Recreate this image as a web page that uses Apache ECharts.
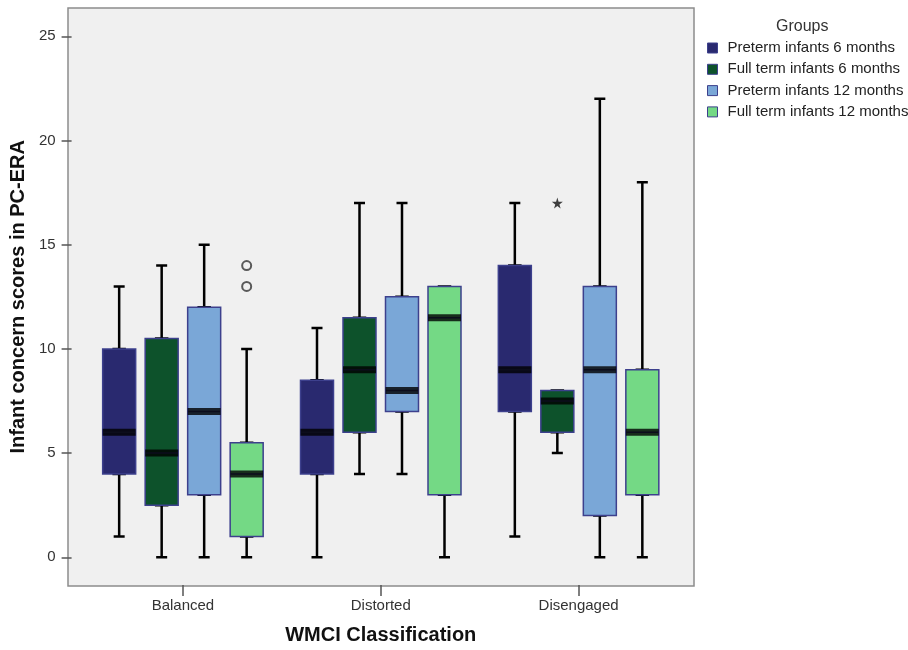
<!DOCTYPE html>
<html>
<head>
<meta charset="utf-8">
<script src="https://cdn.jsdelivr.net/npm/echarts@6/dist/echarts.min.js"></script>
<style>
  html, body { margin: 0; padding: 0; background: #fff; }
  #main { width: 908px; height: 650px; }
</style>
</head>
<body>
<div id="main"></div>
<script>
// ---------------- 数据 ----------------
var categories = ['Balanced', 'Distorted', 'Disengaged'];
var groupNames = ['Preterm infants 6 months', 'Full term infants 6 months', 'Preterm infants 12 months', 'Full term infants 12 months'];
var groupColors = ['#29296f', '#0d522b', '#7aa7d7', '#74d985'];

// [min, Q1, median, Q3, max] for Balanced, Distorted, Disengaged
var preterm6 = [[1, 4, 6, 10, 13], [0, 4, 6, 8.5, 11], [1, 7, 9, 14, 17]];
var fullterm6 = [[0, 2.5, 5, 10.5, 14], [4, 6, 9, 11.5, 17], [5, 6, 7.5, 8, 8]];
var preterm12 = [[0, 3, 7, 12, 15], [4, 7, 8, 12.5, 17], [0, 2, 9, 13, 22]];
var fullterm12 = [[0, 1, 4, 5.5, 10], [0, 3, 11.5, 13, 13], [0, 3, 6, 9, 18]];
var groupStats = [preterm6, fullterm6, preterm12, fullterm12];

// 离群点
var circleOutliers = [['Balanced', 14], ['Balanced', 13]];   // Full term infants 12 months
var starOutliers = [['Disengaged', 17]];                      // Full term infants 6 months

var yTicks = [0, 25, 5]; // min, max, interval

// ---------------- 布局 ----------------
var fontFamily = '"Liberation Sans", Arial, sans-serif';
var frameLeft = 68, frameWidth = 626, frameTop = 8, frameHeight = 578;
var plotLeft = 84, plotWidth = 593.5, plotTop = 36.3, plotHeight = 521;
var boxOffsets = [-63.75, -21.25, 21.25, 63.75]; // 每组箱子的水平偏移

var chart = echarts.init(document.getElementById('main'));

var grids = [
    // 外框
    { left: frameLeft, top: frameTop, width: frameWidth, height: frameHeight, show: true, backgroundColor: '#f0f0f0', borderColor: '#8c8c8c', borderWidth: 1.5 },
    // x 轴 (分类)
    { left: plotLeft, top: frameTop, width: plotWidth, height: frameHeight },
    // y 轴 (0-25), 贴着外框左边
    { left: frameLeft, top: plotTop, width: frameWidth, height: plotHeight }
];
var xAxes = [
    { gridIndex: 0, type: 'value', show: false, min: 0, max: 1 },
    {
        gridIndex: 1, type: 'category', data: categories,
        axisLine: { show: false },
        axisTick: { show: true, alignWithLabel: true, length: 11, lineStyle: { color: '#555', width: 1.5 } },
        axisLabel: { margin: 13, color: '#333', fontSize: 15, fontFamily: fontFamily },
        name: 'WMCI Classification', nameLocation: 'middle', nameGap: 40,
        nameTextStyle: { fontSize: 20, fontWeight: 'bold', color: '#111', fontFamily: fontFamily }
    },
    { gridIndex: 2, type: 'value', show: false, min: 0, max: 1 }
];
var yAxes = [
    { gridIndex: 0, type: 'value', show: false, min: 0, max: 1 },
    { gridIndex: 1, type: 'value', show: false, min: 0, max: 1 },
    {
        gridIndex: 2, type: 'value', min: yTicks[0], max: yTicks[1], interval: yTicks[2],
        axisLine: { show: false },
        splitLine: { show: false },
        axisTick: { show: true, length: 10, lineStyle: { color: '#555', width: 1.5 } },
        axisLabel: { margin: 16, color: '#333', fontSize: 15, fontFamily: fontFamily },
        name: 'Infant concern scores in PC-ERA', nameLocation: 'middle', nameGap: 41,
        nameTextStyle: { fontSize: 20, fontWeight: 'bold', color: '#111', fontFamily: fontFamily }
    }
];
var series = [];

groupStats.forEach(function (stats, k) {
    grids.push({ left: plotLeft + boxOffsets[k], top: plotTop, width: plotWidth, height: plotHeight });
    var gi = grids.length - 1;
    // 须线用一条轴, 箱体用另一条轴 (同一网格)
    xAxes.push({ gridIndex: gi, type: 'category', data: categories, show: false });
    xAxes.push({ gridIndex: gi, type: 'category', data: categories, show: false });
    yAxes.push({ gridIndex: gi, type: 'value', min: yTicks[0], max: yTicks[1], show: false });
    var wx = xAxes.length - 2, bx = xAxes.length - 1, yi = yAxes.length - 1;

    // 须线
    series.push({
        name: 'whisker' + k, type: 'boxplot', xAxisIndex: wx, yAxisIndex: yi,
        boxWidth: [11, 11], silent: true, z: 2,
        itemStyle: { color: '#000', borderColor: '#000', borderWidth: 2.5 },
        data: stats
    });
    // 箱体
    series.push({
        name: groupNames[k], type: 'boxplot', xAxisIndex: bx, yAxisIndex: yi,
        boxWidth: [33, 33], silent: true, z: 3,
        itemStyle: { color: groupColors[k], borderColor: '#3d408d', borderWidth: 1.5 },
        data: stats.map(function (s) { return [s[1], s[1], s[2], s[3], s[3]]; })
    });
    // 中位数
    series.push({
        name: 'median' + k, type: 'scatter', xAxisIndex: bx, yAxisIndex: yi,
        symbol: 'rect', symbolSize: [33, 7], silent: true, z: 4,
        itemStyle: { color: '#000' },
        data: stats.map(function (s, i) { return [categories[i], s[2]]; })
    });
    if (k === 3) {
        series.push({
            name: 'outlier' + k, type: 'scatter', xAxisIndex: bx, yAxisIndex: yi,
            symbol: 'circle', symbolSize: 9, silent: true, z: 5,
            itemStyle: { color: 'transparent', borderColor: '#333', borderWidth: 2 },
            data: circleOutliers
        });
    }
    if (k === 1) {
        series.push({
            name: 'extreme' + k, type: 'scatter', xAxisIndex: bx, yAxisIndex: yi,
            symbol: 'path://M50,0 L61,35 L98,35 L68,57 L79,91 L50,70 L21,91 L32,57 L2,35 L39,35 Z',
            symbolSize: 11, silent: true, z: 5,
            itemStyle: { color: '#111' },
            data: starOutliers
        });
    }
});

var option = {
    backgroundColor: '#fff',
    animation: false,
    title: {
        text: 'Groups', left: 771, top: 14,
        textStyle: { fontSize: 16, fontWeight: 'normal', color: '#333', fontFamily: fontFamily }
    },
    legend: {
        data: groupNames.map(function (n, i) {
            return { name: n, itemStyle: { color: groupColors[i], borderColor: '#3d408d', borderWidth: 1 } };
        }),
        orient: 'vertical', left: 702, top: 35.5,
        icon: 'rect', itemWidth: 10, itemHeight: 10, itemGap: 6.3,
        textStyle: { fontSize: 15, color: '#222', fontFamily: fontFamily, padding: [0, 0, 0, 5] }
    },
    grid: grids,
    xAxis: xAxes,
    yAxis: yAxes,
    series: series
};

chart.setOption(option);
</script>
</body>
</html>
